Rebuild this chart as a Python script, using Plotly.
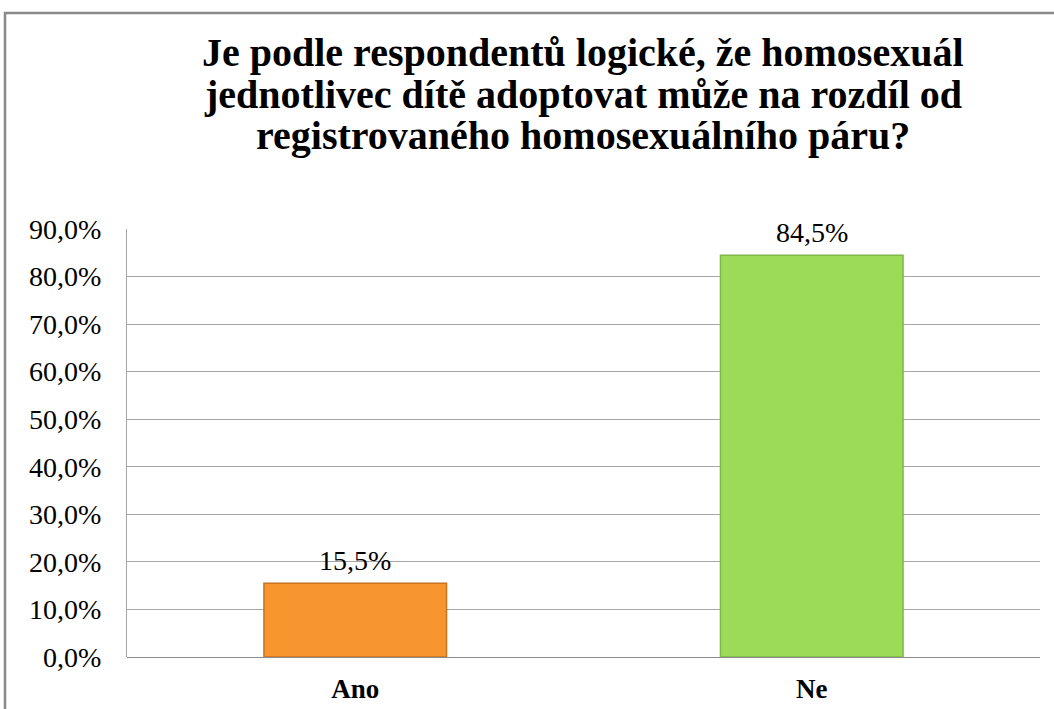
import plotly.graph_objects as go

categories = ["Ano", "Ne"]
values = [0.155, 0.845]
bar_colors = ["#F7962F", "#9BDB58"]
edge_colors = ["#C9731F", "#7DB947"]
title_lines = [
    "Je podle respondentů logické, že homosexuál",
    "jednotlivec dítě adoptovat může na rozdíl od",
    "registrovaného homosexuálního páru?",
]
tick_vals = [i / 10 for i in range(10)]

SERIF = "Liberation Serif"

W, H = 1054, 709
L, R, T, B = 127, 14, 229, 52
pw, ph = W - L - R, H - T - B


def py(v):
    """page pixel row -> paper y"""
    return (H - B - v) / ph


def px(v):
    """page pixel column -> paper x"""
    return (v - L) / pw


fig = go.Figure(
    go.Bar(
        x=categories,
        y=values,
        marker=dict(color=bar_colors, line=dict(color=edge_colors, width=1.5)),
        width=0.4,
        hoverinfo="skip",
    )
)

fig.update_layout(
    width=W,
    height=H,
    margin=dict(l=L, r=R, t=T, b=B, autoexpand=False),
    paper_bgcolor="white",
    plot_bgcolor="white",
    separators=", ",
    showlegend=False,
    font=dict(family=SERIF, color="black"),
    xaxis=dict(
        automargin=False,
        showgrid=False,
        showline=False,
        ticks="outside",
        ticklen=8,
        tickcolor="rgba(0,0,0,0)",
        tickfont=dict(family=SERIF, size=27, weight="bold"),
    ),
    yaxis=dict(
        automargin=False,
        range=[0, 0.9],
        tickvals=tick_vals,
        tickformat=".1%",
        showgrid=True,
        gridcolor="#A6A6A6",
        gridwidth=1.2,
        showline=True,
        linecolor="#A6A6A6",
        linewidth=1.2,
        zeroline=True,
        zerolinecolor="#8C8C8C",
        zerolinewidth=1.2,
        ticks="outside",
        ticklen=19,
        tickcolor="rgba(0,0,0,0)",
        tickfont=dict(family=SERIF, size=28),
    ),
)

# value labels above the bars
for c, v in zip(categories, values):
    fig.add_annotation(
        x=c,
        y=v,
        xref="x",
        yref="y",
        text=f"{v * 100:.1f}%".replace(".", ","),
        showarrow=False,
        yanchor="bottom",
        yshift=5,
        font=dict(family=SERIF, size=28),
    )

# chart title, one annotation per line
baselines = [66, 107, 149]
for line, bl in zip(title_lines, baselines):
    fig.add_annotation(
        text=line,
        xref="paper",
        yref="paper",
        x=px(583),
        y=py(bl - 13),
        xanchor="center",
        yanchor="middle",
        borderpad=0,
        showarrow=False,
        font=dict(family=SERIF, size=40, weight="bold"),
    )

# outer chart border (extends past the picture on the right and bottom)
fig.add_shape(
    type="rect",
    xref="paper",
    yref="paper",
    x0=px(5),
    x1=px(W + 10),
    y0=py(H + 10),
    y1=py(13),
    line=dict(color="#8A8A8A", width=2.5),
    fillcolor="rgba(0,0,0,0)",
    layer="above",
)

fig.write_html(
    "out.html",
    config={"displayModeBar": False},
    post_script="document.body.style.margin='0px';",
)
